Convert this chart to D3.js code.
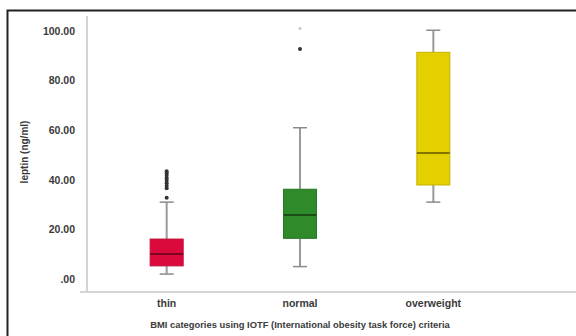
<!DOCTYPE html>
<html>
<head>
<meta charset="utf-8">
<script src="https://cdn.jsdelivr.net/npm/d3@7"></script>
<style>
  html, body { margin: 0; padding: 0; background: #fff; }
  svg { display: block; }
  text { font-family: "Liberation Sans", Arial, sans-serif; }
</style>
</head>
<body>
<svg id="chart" width="576" height="336"></svg>
<script>
// Leptin (ng/ml) by BMI category
const categories = ["thin", "normal", "overweight"];
const whiskerLow = [2.0, 5.0, 31.0];
const q1 = [5.3, 16.4, 37.9];
const median = [10.1, 25.8, 50.8];
const q3 = [16.1, 36.2, 91.4];
const whiskerHigh = [31.0, 61.0, 100.3];
const outliers = [
  [32.8, 36.6, 37.6, 38.6, 39.6, 40.6, 41.6, 42.6, 43.4],
  [92.7],
  []
];
const extremes = [[], [101.0], []];
const colors = ["#dc0a3c", "#2f8a2a", "#e4cf00"];
const yTicks = [0, 20, 40, 60, 80, 100];
const yTickLabels = [".00", "20.00", "40.00", "60.00", "80.00", "100.00"];

const svg = d3.select("#chart");

// outer frame
svg.append("path")
  .attr("d", "M7.5,336 V10.5 H576")
  .attr("fill", "none")
  .attr("stroke", "#222")
  .attr("stroke-width", 2);

const x = d3.scaleBand().domain(categories).range([100, 500]);
const y = d3.scaleLinear().domain([0, 100]).range([279, 31]);

const labelColor = "#3a3a3a";

// axes
const yAxis = d3.axisLeft(y).tickValues(yTicks)
  .tickFormat((d, i) => yTickLabels[i]).tickSize(0).tickPadding(12);
const gy = svg.append("g").attr("transform", "translate(87,0)").call(yAxis);
gy.select(".domain").remove();
gy.selectAll("text").attr("font-size", 10.5).attr("font-weight", "bold").attr("fill", labelColor);

svg.append("line").attr("x1", 87).attr("x2", 87).attr("y1", 16).attr("y2", 292)
  .attr("stroke", "#d4d4d4").attr("stroke-width", 2);
svg.append("line").attr("x1", 80).attr("x2", 576).attr("y1", 292).attr("y2", 292)
  .attr("stroke", "#d4d4d4").attr("stroke-width", 2);

const xAxis = d3.axisBottom(x).tickSize(0).tickPadding(8);
const gx = svg.append("g").attr("transform", "translate(0,292)").call(xAxis);
gx.select(".domain").remove();
gx.selectAll("text").attr("font-size", 10.5).attr("font-weight", "bold").attr("fill", labelColor);

// axis titles
svg.append("text")
  .attr("transform", "translate(28,152) rotate(-90)")
  .attr("text-anchor", "middle")
  .attr("font-size", 10)
  .attr("font-weight", "bold")
  .attr("fill", labelColor)
  .text("leptin (ng/ml)");

svg.append("text")
  .attr("x", 300).attr("y", 328)
  .attr("text-anchor", "middle")
  .attr("font-size", 9.4)
  .attr("font-weight", "bold")
  .attr("fill", labelColor)
  .text("BMI categories using IOTF (International obesity task force) criteria");

// boxes
const bw = 33;
const capW = 14;
categories.forEach((c, i) => {
  const cx = x(c) + x.bandwidth() / 2;
  const g = svg.append("g");
  // whiskers
  g.append("line").attr("x1", cx).attr("x2", cx)
    .attr("y1", y(whiskerHigh[i])).attr("y2", y(q3[i]))
    .attr("stroke", "#9a9a9a").attr("stroke-width", 2);
  g.append("line").attr("x1", cx).attr("x2", cx)
    .attr("y1", y(q1[i])).attr("y2", y(whiskerLow[i]))
    .attr("stroke", "#9a9a9a").attr("stroke-width", 2);
  [whiskerHigh[i], whiskerLow[i]].forEach(v => {
    g.append("line").attr("x1", cx - capW / 2).attr("x2", cx + capW / 2)
      .attr("y1", y(v)).attr("y2", y(v))
      .attr("stroke", "#8a8a8a").attr("stroke-width", 1.5);
  });
  // box
  g.append("rect")
    .attr("x", cx - bw / 2).attr("width", bw)
    .attr("y", y(q3[i])).attr("height", y(q1[i]) - y(q3[i]))
    .attr("fill", colors[i])
    .attr("stroke", d3.color(colors[i]).darker(0.4))
    .attr("stroke-width", 1);
  // median
  g.append("line").attr("x1", cx - bw / 2).attr("x2", cx + bw / 2)
    .attr("y1", y(median[i])).attr("y2", y(median[i]))
    .attr("stroke", d3.color(colors[i]).darker(1.6)).attr("stroke-width", 2);
  // outliers
  g.selectAll(".out").data(outliers[i]).enter().append("circle")
    .attr("cx", cx).attr("cy", d => y(d)).attr("r", 2)
    .attr("fill", "#333");
  g.selectAll(".ext").data(extremes[i]).enter().append("circle")
    .attr("cx", cx).attr("cy", d => y(d)).attr("r", 1.5)
    .attr("fill", "#c8c8c8");
});
</script>
</body>
</html>
